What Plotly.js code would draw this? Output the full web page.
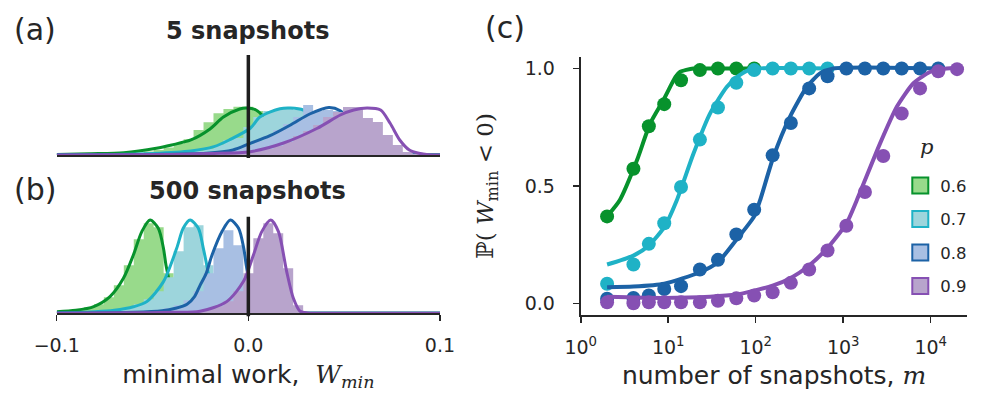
<!DOCTYPE html>
<html>
<head>
<meta charset="utf-8">
<script src="https://cdn.plot.ly/plotly-3.0.1.min.js"></script>
<style>
  html, body { margin: 0; padding: 0; background: #fff; }
  #chart { width: 997px; height: 398px; }
</style>
</head>
<body>
<div id="chart"></div>
<script>
'use strict'

// series labels and colours (p = 0.6, 0.7, 0.8, 0.9)

const pLabels = ['0.6', '0.7', '0.8', '0.9']
const lineColors = ['#07922c', '#1fb2c6', '#1c62a6', '#8650b3']
const fillColors = ['#98da8b', '#9dd5dc', '#a8bfe3', '#b8a4cc']

// (a) 5 snapshots : histogram bin centres / heights (density, a.u.)

const histA_x_06 = [-0.0676, -0.0624, -0.0572, -0.052, -0.0468, -0.0416, -0.0364, -0.0312, -0.026, -0.0208, -0.0156, -0.0104, -0.0052, 0, 0.0052, 0.0104, 0.0156, 0.0208, 0.026, 0.0312, 0.0364]
const histA_y_06 = [0, 1.5, 2, 3.5, 5, 7.5, 11, 15.7, 25, 32.7, 41.7, 46, 48.3, 48.3, 44, 36, 22, 9, 3, 0.8, 0]
const histA_x_07 = [-0.0416, -0.0364, -0.0312, -0.026, -0.0208, -0.0156, -0.0104, -0.0052, 0, 0.0052, 0.0104, 0.0156, 0.0208, 0.026, 0.0312, 0.0364, 0.0416, 0.0468, 0.052, 0.0572, 0.0624]
const histA_y_07 = [0, 1.5, 2.5, 4, 6, 10, 15, 17, 28, 38, 44, 46, 47, 45, 44, 36, 24, 11, 4, 1, 0]
const histA_x_08 = [-0.026, -0.0208, -0.0156, -0.0104, -0.0052, 0, 0.0052, 0.0104, 0.0156, 0.0208, 0.026, 0.0312, 0.0364, 0.0416, 0.0468, 0.052, 0.0572, 0.0624, 0.0676, 0.0728, 0.078]
const histA_y_08 = [0, 1, 2, 3.5, 6, 10, 14, 19, 25, 31, 38, 50, 44, 45, 44, 40, 28, 15, 6, 2, 0]
const histA_x_09 = [-0.0156, -0.0104, -0.0052, 0, 0.0052, 0.0104, 0.0156, 0.0208, 0.026, 0.0312, 0.0364, 0.0416, 0.0468, 0.052, 0.0572, 0.0624, 0.0676, 0.0728, 0.078, 0.0832, 0.0884, 0.0936]
const histA_y_09 = [0, 1, 1.5, 3, 4, 6, 9, 13, 19, 24, 30, 38, 43, 48, 48, 37, 33, 20, 10, 3, 1, 0]

// (a) fitted densities

const curveA_x_06 = [-0.1, -0.083, -0.065, -0.048, -0.04, -0.03, -0.02, -0.013, -0.0045, -0.001, 0.004, 0.008, 0.012, 0.016, 0.02, 0.024, 0.028, 0.035, 0.1]
const curveA_y_06 = [0.5, 1.3, 2.3, 6.7, 10, 15, 26, 38, 46, 47, 45, 38, 27, 14, 5, 1.5, 0.3, 0, 0]
const curveA_x_07 = [-0.1, -0.07, -0.05, -0.03, -0.018, -0.01, 0.001, 0.006, 0.0165, 0.022, 0.0287, 0.033, 0.037, 0.041, 0.045, 0.049, 0.053, 0.06, 0.1]
const curveA_y_07 = [0.2, 0.6, 1.5, 4, 8.3, 15, 26.7, 38, 46.3, 47, 45, 39, 29, 17, 7, 2, 0.5, 0, 0]
const curveA_x_08 = [-0.1, -0.05, -0.022, -0.008, 0.001, 0.011, 0.022, 0.032, 0.042, 0.048, 0.0513, 0.055, 0.059, 0.063, 0.067, 0.071, 0.078, 0.1]
const curveA_y_08 = [0.1, 0.5, 1.7, 5, 11.7, 19, 30, 41, 47.5, 44.3, 38, 29, 18, 8, 2.5, 0.6, 0, 0]
const curveA_x_09 = [-0.1, -0.04, -0.02, 0.001, 0.018, 0.036, 0.048, 0.055, 0.062, 0.069, 0.074, 0.079, 0.084, 0.089, 0.094, 0.1]
const curveA_y_09 = [0, 0.5, 1.5, 3.3, 11.7, 26.7, 40, 45, 47, 45, 31.7, 15, 5, 1.7, 0.3, 0]

// (b) 500 snapshots : histogram bin centres / heights

const histB_x_06 = [-0.0988, -0.0936, -0.0884, -0.0832, -0.078, -0.0728, -0.0676, -0.0624, -0.0572, -0.052, -0.0468, -0.0416, -0.0364, -0.0312, -0.026]
const histB_y_06 = [0, 2.5, 4, 6, 9, 16, 28, 48, 74, 90, 86, 40, 6, 1, 0]
const histB_x_07 = [-0.0936, -0.0884, -0.0832, -0.078, -0.0728, -0.0676, -0.0624, -0.0572, -0.052, -0.0468, -0.0416, -0.0364, -0.0312, -0.026, -0.0208, -0.0156, -0.0104, -0.0052]
const histB_y_07 = [0, 1, 1.5, 2, 3, 4, 6, 9, 14, 22, 36, 62, 86, 88, 48, 10, 1.5, 0]
const histB_x_08 = [-0.0676, -0.0624, -0.0572, -0.052, -0.0468, -0.0416, -0.0364, -0.0312, -0.026, -0.0208, -0.0156, -0.0104, -0.0052, 0, 0.0052, 0.0104, 0.0156]
const histB_y_08 = [0, 1, 1.5, 2.5, 3.5, 5, 8, 13, 22, 40, 65, 83, 68, 30, 6, 1, 0]
const histB_x_09 = [-0.0468, -0.0416, -0.0364, -0.0312, -0.026, -0.0208, -0.0156, -0.0104, -0.0052, 0, 0.0052, 0.0104, 0.0156, 0.0208, 0.026, 0.0312, 0.0364]
const histB_y_09 = [0, 0.8, 1.2, 1.5, 2, 4, 7, 12, 22, 40, 75, 90, 80, 45, 8, 1, 0]

// (b) fitted densities

const curveB_x_06 = [-0.1, -0.09, -0.0807, -0.0722, -0.0652, -0.06, -0.0556, -0.0513, -0.047, -0.0443, -0.043, -0.041, -0.039, -0.037, -0.035, -0.032, -0.028, 0.1]
const curveB_y_06 = [1.5, 3, 6.7, 16.7, 35, 58.3, 81.7, 93.3, 85, 65, 48.3, 30, 14, 5, 1.5, 0.3, 0, 0]
const curveB_x_07 = [-0.1, -0.08, -0.07, -0.06, -0.053, -0.0443, -0.0374, -0.034, -0.0304, -0.0261, -0.0235, -0.0217, -0.02, -0.018, -0.016, -0.014, -0.011, -0.007, 0.1]
const curveB_y_07 = [0.3, 1.5, 3, 6.5, 11.7, 31.7, 65, 85, 93.3, 85, 65, 48, 30, 14, 5, 1.5, 0.3, 0, 0]
const curveB_x_08 = [-0.1, -0.06, -0.045, -0.038, -0.032, -0.028, -0.0252, -0.022, -0.019, -0.0137, -0.0094, -0.0051, -0.0024, -0.0011, 0.0006, 0.0026, 0.0046, 0.0066, 0.0096, 0.013, 0.1]
const curveB_y_08 = [0.2, 1, 2.5, 5, 9, 17, 28, 40, 58, 82, 93.3, 85, 65, 48, 30, 14, 5, 1.5, 0.3, 0, 0]
const curveB_x_09 = [-0.1, -0.06, -0.04, -0.0252, -0.0113, -0.0026, 0.0026, 0.007, 0.0117, 0.0157, 0.02, 0.0235, 0.027, 0.031, 0.035, 0.1]
const curveB_y_09 = [0, 0.5, 1, 2, 11.7, 31.7, 58, 81.7, 93.3, 81.7, 41.7, 15, 2, 0.3, 0, 0]

// (c) P(W_min < 0) against number of snapshots m

const snapshots = [2, 4, 6, 9, 14, 23, 37, 60, 96, 156, 252, 408, 662, 1086, 1770, 2870, 4660, 7550, 12200, 20000]
const prob_06 = [0.37, 0.573, 0.754, 0.848, 0.95, 0.993, 1, 1, 1]
const prob_07 = [0.083, 0.165, 0.253, 0.341, 0.495, 0.697, 0.834, 0.939, 0.993, 1, 1, 1, 1]
const prob_08 = [0.019, 0.023, 0.033, 0.061, 0.073, 0.144, 0.185, 0.293, 0.398, 0.63, 0.768, 0.915, 0.967, 1, 1, 1, 1, 1, 1]
const prob_09 = [0.004, 0, 0.004, 0.004, 0.004, 0.004, 0.011, 0.021, 0.033, 0.047, 0.087, 0.144, 0.225, 0.33, 0.474, 0.627, 0.808, 0.915, 0.988, 0.997]

const fitC_x_06 = [2, 2.8, 4.4, 6.2, 8.8, 12.1, 13.6, 19.4, 30, 96]
const fitC_y_06 = [0.37, 0.44, 0.61, 0.765, 0.865, 0.964, 0.985, 1, 1, 1]
const fitC_x_07 = [2, 4, 6, 9, 12.5, 19.4, 30, 46.6, 61.5, 79, 103, 662]
const fitC_y_07 = [0.165, 0.203, 0.246, 0.324, 0.438, 0.637, 0.808, 0.921, 0.964, 0.99, 1, 1]
const fitC_x_08 = [2, 4, 9, 23, 37, 60, 96, 112, 159, 246, 383, 543, 771, 12200]
const fitC_y_08 = [0.068, 0.071, 0.083, 0.132, 0.175, 0.27, 0.37, 0.438, 0.623, 0.794, 0.921, 0.979, 1, 1]
const fitC_x_09 = [2, 9, 30, 60, 96, 156, 252, 408, 662, 1086, 1426, 2630, 4085, 6310, 9800, 15200, 20000]
const fitC_y_09 = [0.028, 0.023, 0.028, 0.037, 0.054, 0.075, 0.108, 0.161, 0.236, 0.339, 0.438, 0.68, 0.836, 0.936, 0.985, 1, 1]

///////////////////////////////////////////////////////

const histA = [[histA_x_06, histA_y_06], [histA_x_07, histA_y_07], [histA_x_08, histA_y_08], [histA_x_09, histA_y_09]]
const curveA = [[curveA_x_06, curveA_y_06], [curveA_x_07, curveA_y_07], [curveA_x_08, curveA_y_08], [curveA_x_09, curveA_y_09]]
const histB = [[histB_x_06, histB_y_06], [histB_x_07, histB_y_07], [histB_x_08, histB_y_08], [histB_x_09, histB_y_09]]
const curveB = [[curveB_x_06, curveB_y_06], [curveB_x_07, curveB_y_07], [curveB_x_08, curveB_y_08], [curveB_x_09, curveB_y_09]]
const probs = [prob_06, prob_07, prob_08, prob_09]
const fitC = [[fitC_x_06, fitC_y_06], [fitC_x_07, fitC_y_07], [fitC_x_08, fitC_y_08], [fitC_x_09, fitC_y_09]]

const ink = '#262626'
const sans = 'DejaVu Sans, Liberation Sans, sans-serif'
const serif = 'DejaVu Serif, Liberation Serif, serif'

const traces = []

// histogram panels : step fill then density curve, one series after another

const histPanel = (hists, curves, xa, ya) => {
  pLabels.forEach((p, i) => {
    traces.push({
      type: 'scatter', mode: 'lines', xaxis: xa, yaxis: ya,
      x: hists[i][0], y: hists[i][1],
      line: { shape: 'hvh', width: 0, color: fillColors[i] },
      fill: 'tozeroy', fillcolor: fillColors[i], opacity: 0.92,
      hoverinfo: 'skip', showlegend: false
    })
    traces.push({
      type: 'scatter', mode: 'lines', xaxis: xa, yaxis: ya,
      x: curves[i][0], y: curves[i][1],
      line: { shape: 'spline', smoothing: 0.8, width: 3, color: lineColors[i] },
      hoverinfo: 'skip', showlegend: false
    })
  })
}

histPanel(histA, curveA, 'x', 'y')
histPanel(histB, curveB, 'x2', 'y2')

// probability panel

pLabels.forEach((p, i) => {
  traces.push({
    type: 'scatter', mode: 'lines', xaxis: 'x3', yaxis: 'y3',
    x: fitC[i][0], y: fitC[i][1],
    line: { shape: 'spline', smoothing: 0.6, width: 4, color: lineColors[i] },
    showlegend: false
  })
  traces.push({
    type: 'scatter', mode: 'markers', xaxis: 'x3', yaxis: 'y3',
    x: snapshots.slice(0, probs[i].length), y: probs[i],
    marker: { size: 14, color: lineColors[i] },
    showlegend: false
  })
})

// legend entries

pLabels.forEach((p, i) => {
  traces.push({
    type: 'scatter', mode: 'markers', xaxis: 'x3', yaxis: 'y3',
    x: [null], y: [null], name: p, legendgroup: 'g' + i,
    marker: { symbol: 'square', size: 16, color: fillColors[i], line: { color: lineColors[i], width: 2 } }
  })
})

const zeroLine = (xa, ya) => ({
  type: 'line', xref: xa, yref: ya + ' domain', x0: 0, x1: 0, y0: -0.03, y1: 1,
  line: { color: '#1e1e1e', width: 3.5 }, layer: 'above'
})

const histAxis = {
  range: [-0.1, 0.1], showgrid: false, zeroline: false, fixedrange: true,
  showline: true, linecolor: ink, linewidth: 2
}

const label = (text, x, y, size, anchor) => ({
  text: text, x: x, y: y, xref: 'paper', yref: 'paper',
  xanchor: anchor, yanchor: 'middle', showarrow: false, font: { size: size }
})

const layout = {
  width: 997,
  height: 398,
  margin: { l: 0, r: 0, t: 0, b: 0 },
  paper_bgcolor: '#fff',
  plot_bgcolor: 'rgba(0,0,0,0)',
  font: { family: sans, color: ink, size: 19 },
  showlegend: true,
  legend: {
    x: 0.903, y: 0.577, xanchor: 'left', yanchor: 'top',
    font: { family: sans, size: 16.5, color: ink },
    tracegroupgap: 9, bgcolor: 'rgba(0,0,0,0)'
  },
  xaxis: Object.assign({
    domain: [0.0569, 0.4413], anchor: 'y', ticks: '', showticklabels: false
  }, histAxis),
  yaxis: { domain: [0.6106, 0.8618], range: [0, 100], visible: false, fixedrange: true },
  xaxis2: Object.assign({
    domain: [0.0569, 0.4413], anchor: 'y2',
    ticks: 'outside', ticklen: 6, tickwidth: 1.5, tickcolor: ink,
    tickvals: [-0.1, 0, 0.1], tickformat: '.1f', ticklabelstandoff: 8,
    tickfont: { size: 19 },
    title: {
      text: 'minimal work,  <span style="font-family:DejaVu Serif"><i>W</i><sub><i>min</i></sub></span>',
      font: { size: 25 }, standoff: 10
    }
  }, histAxis),
  yaxis2: { domain: [0.2128, 0.4555], range: [0, 96.6], visible: false, fixedrange: true },
  xaxis3: {
    type: 'log', domain: [0.5825, 0.9702], range: [0, 4.418], anchor: 'y3',
    showgrid: false, zeroline: false, showline: true, linecolor: ink, linewidth: 2,
    ticks: 'outside', ticklen: 6, tickwidth: 1.5, tickcolor: ink,
    tickvals: [1, 10, 100, 1000, 10000],
    ticktext: ['10<sup>0</sup>', '10<sup>1</sup>', '10<sup>2</sup>', '10<sup>3</sup>', '10<sup>4</sup>'],
    ticklabelstandoff: 8, tickfont: { size: 19 },
    title: {
      text: 'number of snapshots, <span style="font-family:DejaVu Serif"><i>m</i></span>',
      font: { size: 25 }, standoff: 10
    }
  },
  yaxis3: {
    domain: [0.2085, 0.8575], range: [-0.05, 1.05], anchor: 'x3',
    showgrid: false, zeroline: false, showline: true, linecolor: ink, linewidth: 2,
    ticks: 'outside', ticklen: 6, tickwidth: 1.5, tickcolor: ink,
    tickvals: [0, 0.5, 1], tickformat: '.1f', ticklabelstandoff: 14, tickfont: { size: 19 },
    title: {
      text: 'ℙ( <i>W</i><sub>min</sub> &lt; 0)',
      font: { family: serif, size: 23 }, standoff: 25
    }
  },
  shapes: [zeroLine('x', 'y'), zeroLine('x2', 'y2')],
  annotations: [
    label('(a)', 0.012, 0.927, 30, 'left'),
    label('(b)', 0.012, 0.525, 30, 'left'),
    label('(c)', 0.484, 0.93, 30, 'left'),
    label('<b>5 snapshots</b>', 0.2487, 0.921, 24, 'center'),
    label('<b>500 snapshots</b>', 0.2487, 0.52, 24, 'center'),
    { text: '<i>p</i>', x: 0.929, y: 0.631, xref: 'paper', yref: 'paper', xanchor: 'center', yanchor: 'middle',
      showarrow: false, font: { family: serif, size: 21 } }
  ]
}

Plotly.newPlot('chart', traces, layout, { staticPlot: true, displayModeBar: false })
</script>
</body>
</html>
